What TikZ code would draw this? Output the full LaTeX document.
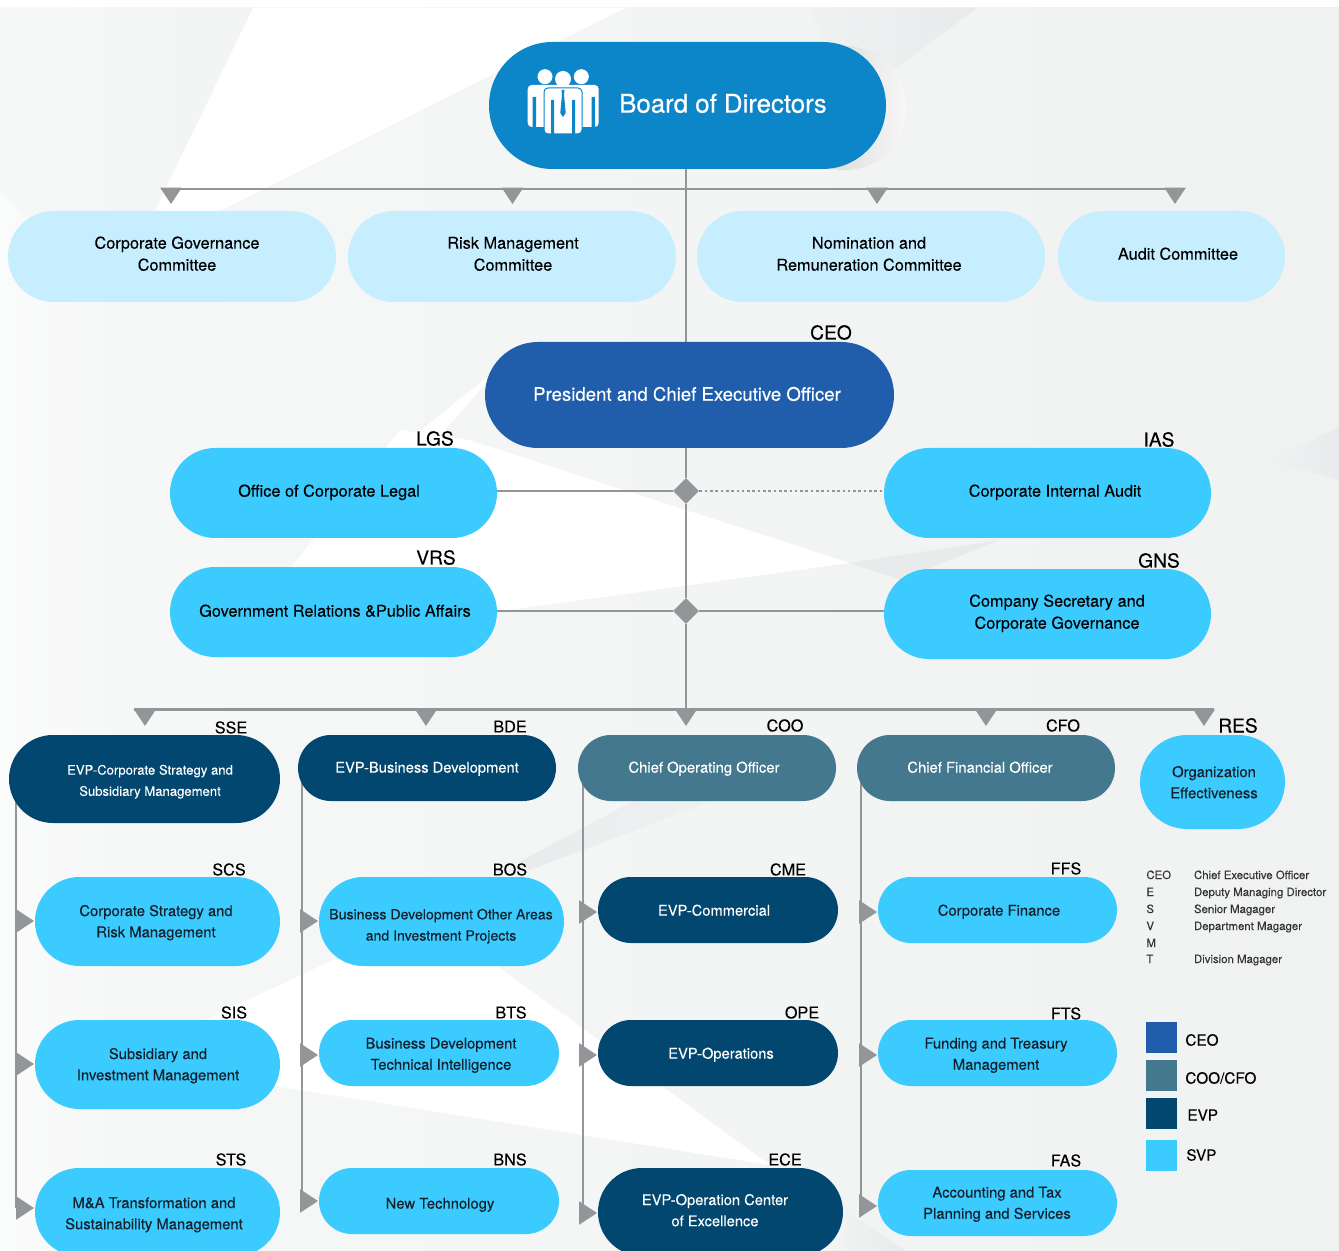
\documentclass[tikz,border=0pt]{standalone}
\usepackage{fontspec}
\setmainfont[FakeBold=0.12]{TeX Gyre Heros}
\newfontfamily\medfont[FakeBold=0.45]{TeX Gyre Heros}
\usetikzlibrary{arrows.meta,backgrounds,shapes.misc,shapes.geometric}
\definecolor{wallgrey}{HTML}{F0F1F1}
\definecolor{paleleft}{HTML}{F6F7F7}
\definecolor{wedgegrey}{HTML}{E9EAEC}
\definecolor{linegrey}{HTML}{939598}
\definecolor{boardblue}{HTML}{0D85C9}
\definecolor{ceoblue}{HTML}{205EAC}
\definecolor{paleblue}{HTML}{C7EEFF}
\definecolor{svpblue}{HTML}{3BCBFF}
\definecolor{evpblue}{HTML}{02476F}
\definecolor{cooteal}{HTML}{43788F}
\definecolor{inkdark}{HTML}{14202B}
\tikzstyle{pill}=[rounded rectangle,inner sep=0pt,outer sep=0pt,text=inkdark]
\tikzstyle{boardpill}=[pill,fill=boardblue,text=white,font=\medfont\fontsize{12.9}{15}\selectfont]
\tikzstyle{ceopill}=[pill,fill=ceoblue,text=white,font=\medfont\fontsize{9.3}{11}\selectfont]
\tikzstyle{committee}=[pill,fill=paleblue,text=black,font=\fontsize{8.15}{11}\selectfont]
\tikzstyle{staff}=[pill,fill=svpblue,text=black,font=\fontsize{8.15}{11}\selectfont]
\tikzstyle{svp}=[pill,fill=svpblue,font=\fontsize{7.4}{10.6}\selectfont]
\tikzstyle{svpwide}=[pill,fill=svpblue,font=\fontsize{7.05}{10.6}\selectfont]
\tikzstyle{evp}=[pill,fill=evpblue,text=white,font=\fontsize{7.35}{10.6}\selectfont]
\tikzstyle{evpwide}=[pill,fill=evpblue,text=white,font=\fontsize{6.55}{10.6}\selectfont]
\tikzstyle{coopill}=[pill,fill=cooteal,text=white,font=\fontsize{7.4}{10.6}\selectfont]
\tikzstyle{tagbig}=[inner sep=0pt,text=black,font=\fontsize{9.6}{11}\selectfont]
\tikzstyle{tagsmall}=[inner sep=0pt,text=black,font=\fontsize{8.1}{10}\selectfont]
\tikzstyle{abbrev}=[inner sep=0pt,anchor=base west,text=black!80,font=\fontsize{5.7}{7}\selectfont]
\tikzstyle{swatch}=[inner sep=0pt,minimum size=15.5pt]
\tikzstyle{keytext}=[inner sep=0pt,anchor=west,text=black,font=\fontsize{7.65}{9}\selectfont]
\tikzstyle{hub}=[diamond,fill=linegrey,inner sep=0pt,minimum size=13pt]
\tikzstyle{connector}=[draw=linegrey,line width=1.3pt]
\tikzstyle{hanger}=[connector,-{Triangle[length=8.2pt,width=10.5pt]}]
\tikzstyle{feeder}=[connector,-{Triangle[length=9pt,width=11.5pt]},shorten >=0.5pt]
\newcommand{\pilltext}[3]{\makebox[0pt]{\hspace{#1}\raisebox{\dimexpr#2-0.25em-0.6pt\relax}[0pt][0pt]{\begin{tabular}{@{}c@{}}#3\end{tabular}}}}

\begin{document}
\begin{tikzpicture}[x=0.5pt,y=-0.5pt]
    \useasboundingbox (0,0) rectangle (1339,1251);
    \clip (0,0) rectangle (1339,1251);

    % wall behind the chart
    \begin{scope}[on background layer]
        \fill[white] (0,0) rectangle (1339,1251);
        \shade[left color=white!50!paleleft,right color=paleleft] (0,8) rectangle (120,1251);
        \shade[left color=paleleft,right color=wallgrey] (120,8) rectangle (1339,1251);
        \shade[left color=paleleft,right color=wallgrey!60!paleleft] (0,8) -- (253,8) -- (155,211) -- (100,300) -- (0,190) -- cycle;
        \fill[white] (253,8) -- (625,8) -- (220,211) -- (155,211) -- cycle;
        \fill[white] (469,440) -- (850,563) -- (400,625) -- (285,575) -- (400,430) -- cycle;
        \fill[white] (400,447) -- (500,367) -- (430,447) -- cycle;
        \fill[white] (118,1061) -- (333,960) -- (430,930) -- (497,966) -- (770,1165) -- cycle;
        \shade[left color=wallgrey,right color=wedgegrey] (810,8) -- (977,8) -- (896,68) -- (830,60) -- cycle;
        \fill[wedgegrey] (850,563) -- (1000,540) -- (900,580) -- cycle;
        \shade[left color=wallgrey,right color=wedgegrey] (1272,460) -- (1339,427) -- (1339,480) -- cycle;
        \shade[left color=wedgegrey,right color=wallgrey] (517,863) -- (635,800) -- (715,800) -- (530,870) -- cycle;
        \shade[left color=wallgrey,right color=wedgegrey] (845,1210) -- (905,1251) -- (845,1251) -- cycle;
        \shade[left color=black!20,right color=white!97!black] (845,108) circle (62);
    \end{scope}

    \foreach \kind/\name/\xa/\xb/\ya/\yb/\tx/\ty/\txt in {
        boardpill/board/489/886/42/169/723/105/{Board of Directors},
        committee/corpgov/8/336/211/302/177/254/{Corporate Governance\\Committee},
        committee/riskmgmt/348/676/211/302/513/254/{Risk Management\\Committee},
        committee/nomination/697/1045/211/302/869/254/{Nomination and\\Remuneration Committee},
        committee/audit/1058/1285/211/302/1178/254/{Audit Committee},
        ceopill/ceo/485/894/342/448/687/395/{President and Chief Executive Officer},
        staff/legal/170/497/448/538/329/491/{Office of Corporate Legal},
        staff/internal/884/1211/448/538/1055/491/{Corporate Internal Audit},
        staff/relations/170/497/567/657/335/611/{Government Relations \&Public Affairs},
        staff/secretary/884/1211/569/659/1057/612/{Company Secretary and\\Corporate Governance},
        evpwide/sse/9/280/735/823/150/780/{EVP-Corporate Strategy and\\Subsidiary Management},
        evp/bde/298/556/735/801/427/767/{EVP-Business Development},
        coopill/coo/578/836/735/801/704/767/{Chief Operating Officer},
        coopill/cfo/857/1115/735/801/980/767/{Chief Financial Officer},
        svp/res/1140/1285/735/829/1214/782/{Organization\\Effectiveness},
        svp/scs/35/280/877/966/156/921/{Corporate Strategy and\\Risk Management},
        svp/sis/35/280/1020/1109/158/1064/{Subsidiary and\\Investment Management},
        svp/sts/35/280/1168/1256/154/1213/{M\&A Transformation and\\Sustainability Management},
        svpwide/bos/319/564/877/966/441/924.5/{Business Development Other Areas\\and Investment Projects},
        svp/bts/319/559/1020/1086/441/1053.5/{Business Development\\Technical Intelligence},
        svp/bns/319/559/1168/1234/440/1203/{New Technology},
        evp/cme/598/838/877/943/714/910/{EVP-Commercial},
        evp/ope/598/838/1020/1086/721/1053/{EVP-Operations},
        evp/ece/598/843/1168/1256/715/1210/{EVP-Operation Center\\of Excellence},
        svp/ffs/878/1117/877/943/999/910/{Corporate Finance},
        svp/fts/878/1117/1020/1086/996/1053.5/{Funding and Treasury\\Management},
        svp/fas/878/1117/1170/1236/997/1202.5/{Accounting and Tax\\Planning and Services}} {
        \pgfmathsetmacro{\shiftx}{\tx-(\xa+\xb)/2}
        \pgfmathsetmacro{\shifty}{((\ya+\yb)/2-\ty)*0.5}
        \node[\kind,minimum width={(\xb-\xa)*0.5pt},minimum height={(\yb-\ya)*0.5pt}] (\name) at ({(\xa+\xb)/2},{(\ya+\yb)/2}) {\pilltext{\shiftx pt}{\shifty pt}{\txt}};
    }

    % people on the board pill
    \fill[white] (545,76.7) circle (7.5) (581.3,76.7) circle (7.5) (563,79) circle (8);
    \fill[white,rounded corners=2pt] (527.7,127) -- (527.7,85) -- (598.7,85) -- (598.7,127) -- cycle;
    \fill[boardblue] (532.7,97) rectangle (536,127) (591.5,97) rectangle (594.8,127);
    \filldraw[fill=white,draw=boardblue,line width=0.5pt,rounded corners=2pt] (544,134) -- (544,88) -- (582,88) -- (582,134) -- cycle;
    \fill[boardblue] (551,100) rectangle (554,134) (572,100) rectangle (575.2,134);
    \fill[boardblue] (561.5,90) -- (564.5,90) -- (564,94.5) -- (565.7,113) -- (563,117) -- (560.3,113) -- (562,94.5) -- cycle;

    \foreach \x/\y/\name in {831/332.5/CEO, 435/438.5/LGS, 1159/439.5/IAS, 436/557.5/VRS, 1159/560.5/GNS, 1238/725.5/RES}
        \node[tagbig] (tag\name) at (\x,\y) {\name};
    \foreach \x/\y/\name in {231/727.5/SSE, 510/726.5/BDE, 785/725.5/COO, 1063/725.5/CFO,
        229/869.5/SCS, 510/869.5/BOS, 788/869.5/CME, 1066/868.5/FFS,
        234/1012.5/SIS, 511/1012.5/BTS, 802/1012.5/OPE, 1066/1013.5/FTS,
        231/1159.5/STS, 510/1159.5/BNS, 785/1159.5/ECE, 1066/1160.5/FAS}
        \node[tagsmall] (tag\name) at (\x,\y) {\name};

    \node[hub] (legalhub) at (686,491) {};
    \node[hub] (relationshub) at (686,611) {};
    \coordinate (committeebus) at (686,189);
    \coordinate (divisionbus) at (686,709.5);

    \begin{scope}[on background layer]
        \draw[connector] (board.south -| legalhub) -- (ceo.north -| legalhub);
        \draw[connector] (ceo.south -| legalhub) -- (legalhub);
        \draw[connector] (legalhub) -- (relationshub);
        \draw[connector] (relationshub) -- (divisionbus);
        \draw[connector] (legal.east |- legalhub) -- (legalhub);
        \draw[connector,dash pattern=on 1.3pt off 1.35pt] (legalhub) -- (internal.west |- legalhub);
        \draw[connector] (relations.east |- relationshub) -- (relationshub);
        \draw[connector] (relationshub) -- (secretary.west |- relationshub);

        \draw[connector] (161,189) -- (1185,189);
        \foreach \x/\name in {171/corpgov, 512.5/riskmgmt, 877/nomination, 1175/audit} {
            \coordinate (\name drop) at (\x,189);
            \draw[hanger,shorten >=3.5pt] (\name drop) -- (\name drop |- \name.north);
        }

        \draw[connector] (134,709.5) -- (1214,709.5);
        \foreach \x/\name in {145/sse, 426/bde, 686/coo, 986/cfo, 1204/res} {
            \coordinate (\name drop) at (\x,709.5);
            \draw[hanger,shorten >=4.5pt] (\name drop) -- (\name drop |- \name.north);
        }

        \foreach \x/\y/\name in {16/921/scs, 16/1064/sis, 16/1208/sts,
            302/921/bos, 302/1055/bts, 302/1201/bns,
            583/912/cme, 583/1055/ope, 583/1213/ece,
            861/912/ffs, 861/1055/fts, 861/1206/fas} {
            \coordinate (\name feed) at (\x,\y);
            \draw[feeder] (\name feed) -- (\name feed -| \name.west);
        }
        \foreach \parent/\child in {sse/sts, bde/bns, coo/ece, cfo/fas}
            \draw[connector] (\parent.center -| \child feed) -- (\child feed);
    \end{scope}

    % key at the lower right
    \foreach \y/\name in {879/CEO, 896/E, 913/S, 930/V, 947/M, 963/T}
        \node[abbrev] (abbr\name) at (1146,\y) {\name};
    \foreach \y/\name/\full in {879/CEO/Chief Executive Officer, 896/E/Deputy Managing Director, 913/S/Senior Magager, 930/V/Department Magager, 963/T/Division Magager}
        \node[abbrev] (full\name) at (1193.6,\y) {\full};
    \foreach \y/\col/\name/\x/\ty/\txt in {1037.5/ceoblue/ceo/1185/1040/CEO, 1075.5/cooteal/coo/1185/1078/COO\slash CFO, 1113.5/evpblue/evp/1187/1115/EVP, 1155.5/svpblue/svp/1186/1155/SVP} {
        \node[swatch,fill=\col] (swatch\name) at (1161.5,\y) {};
        \node[keytext] (key\name) at (\x,\ty) {\txt};
    }
\end{tikzpicture}
\end{document}
